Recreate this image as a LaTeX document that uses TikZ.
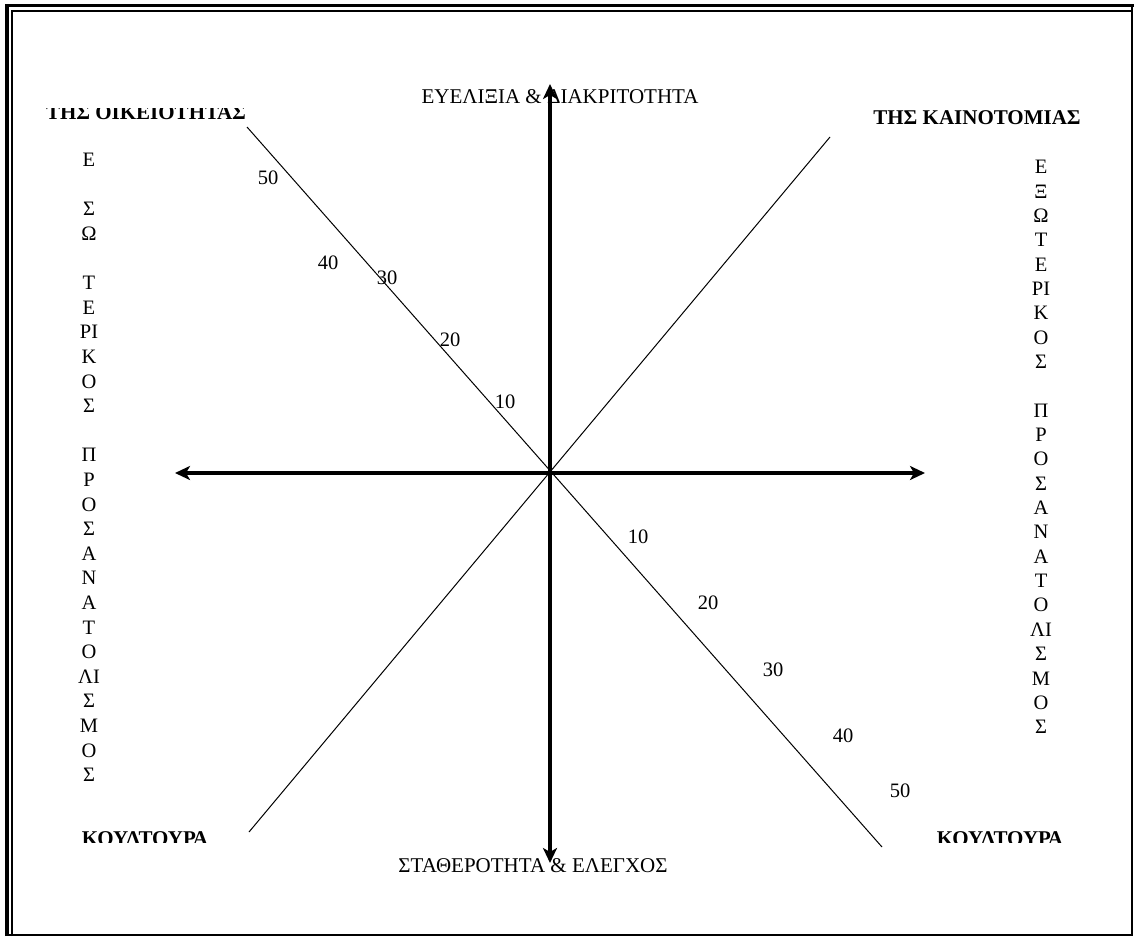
\documentclass[tikz,border=0pt]{standalone}
\usepackage{fontspec}
\setmainfont{Liberation Serif}
\usetikzlibrary{arrows.meta}
\begin{document}
\begin{tikzpicture}[x=1pt,y=-1pt,
  axis/.style={line width=4pt,{Stealth[length=15pt,width=14pt,inset=4pt]}-{Stealth[length=15pt,width=14pt,inset=4pt]}},
  diag/.style={line width=1pt},
  lbl/.style={inner sep=0pt,font=\fontsize{21}{24}\selectfont},
  blbl/.style={inner sep=0pt,font=\fontsize{21}{24}\selectfont\bfseries},
  num/.style={inner sep=0pt,font=\fontsize{20.5}{24}\selectfont},
  col/.style={inner sep=0pt,font=\fontsize{20.5}{24}\selectfont},
]
\useasboundingbox (0,0) rectangle (1134,937);
% frame
\draw[line width=4pt] (7,936) -- (7,5.5);
\draw[line width=3pt] (5,5.5) -- (1134,5.5);
\draw[line width=2pt] (12,936) -- (12,10.5) -- (1131,10.5);
\draw[line width=2pt] (1132,4) -- (1132,936);
\draw[line width=2pt] (5,935) -- (1133,935);

% corner labels
\begin{scope}
  \clip (0,108.5) rectangle (300,200);
  \node[blbl,anchor=base] (tl) at (146,119) {ΤΗΣ ΟΙΚΕΙΟΤΗΤΑΣ};
\end{scope}
\node[blbl,anchor=base] (tr) at (977,124) {ΤΗΣ ΚΑΙΝΟΤΟΜΙΑΣ};
\begin{scope}
  \clip (0,800) rectangle (1134,842);
  \node[blbl,anchor=base] (bl) at (145,845) {ΚΟΥΛΤΟΥΡΑ};
  \node[blbl,anchor=base] (br) at (1000,845) {ΚΟΥΛΤΟΥΡΑ};
\end{scope}

% axis labels
\node[lbl,anchor=base] (top) at (560,103) {ΕΥΕΛΙΞΙΑ \& ΔΙΑΚΡΙΤΟΤΗΤΑ};
\node[lbl,anchor=base] (bot) at (533,872) {ΣΤΑΘΕΡΟΤΗΤΑ \& ΕΛΕΓΧΟΣ};

% vertical columns
\foreach \k/\t [count=\i] in {0/Ε,2/Σ,3/Ω,5/Τ,6/Ε,7/ΡΙ,8/Κ,9/Ο,10/Σ,12/Π,13/Ρ,14/Ο,15/Σ,16/Α,17/Ν,18/Α,19/Τ,20/Ο,21/ΛΙ,22/Σ,23/Μ,24/Ο,25/Σ}
  \node[col] (lc\i) at (89,{160+\k*24.6}) {\t};
\foreach \k/\t [count=\i] in {0/Ε,1/Ξ,2/Ω,3/Τ,4/Ε,5/ΡΙ,6/Κ,7/Ο,8/Σ,10/Π,11/Ρ,12/Ο,13/Σ,14/Α,15/Ν,16/Α,17/Τ,18/Ο,19/ΛΙ,20/Σ,21/Μ,22/Ο,23/Σ}
  \node[col] (rc\i) at (1041,{167+\k*24.35}) {\t};

% scale numbers
\node[num] (u50) at (268,178) {50};
\node[num] (u40) at (328,263) {40};
\node[num] (u30) at (387,278) {30};
\node[num] (u20) at (450,340) {20};
\node[num] (u10) at (505,402) {10};
\node[num] (d10) at (638,537) {10};
\node[num] (d20) at (708,603) {20};
\node[num] (d30) at (773,670) {30};
\node[num] (d40) at (843,736) {40};
\node[num] (d50) at (900,791) {50};

% diagonals
\coordinate (O) at (550,473);
\coordinate (D1a) at (247,127);
\coordinate (D1b) at (882,847);
\coordinate (D2a) at (249,832);
\coordinate (D2b) at (830,137);
\draw[diag] (D1a) -- (D1b);
\draw[diag] (D2a) -- (D2b);

% axes
\coordinate (L) at (175,473);
\coordinate (R) at (925,473);
\coordinate (T) at (550,84);
\coordinate (B) at (550,863);
\draw[axis] (L) -- (R);
\draw[axis] (B) -- (T);
\end{tikzpicture}
\end{document}
